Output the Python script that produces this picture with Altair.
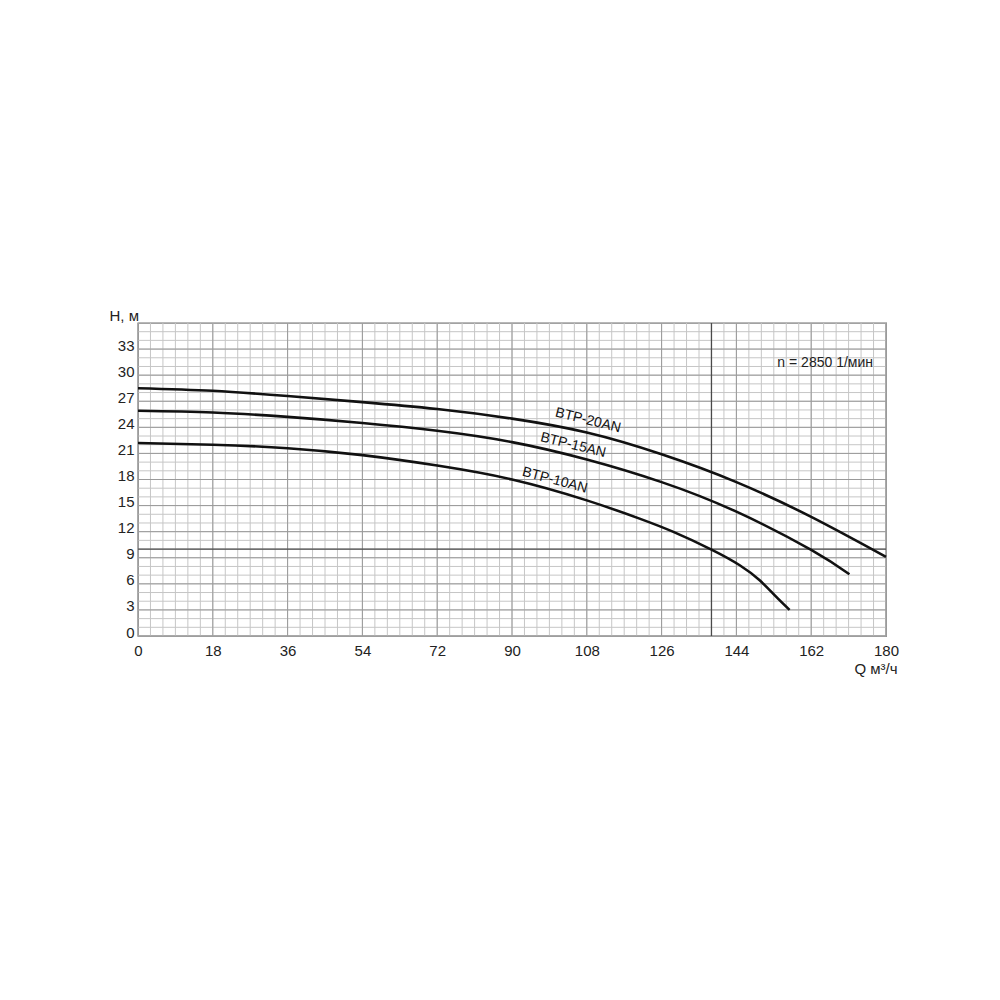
import altair as alt
import pandas as pd
import numpy as np

# Напорные характеристики насосов (Q м3/ч, H м)
q_20 = [0, 18, 36, 54, 72, 90, 108, 126, 144, 162, 180]
h_20 = [28.5, 28.2, 27.6, 26.9, 26.1, 25.0, 23.4, 20.9, 17.7, 13.7, 9.1]

q_15 = [0, 18, 36, 54, 72, 90, 108, 126, 144, 162, 171.2]
h_15 = [25.9, 25.7, 25.2, 24.5, 23.6, 22.3, 20.3, 17.7, 14.3, 9.9, 7.1]

q_10 = [0, 18, 36, 54, 72, 90, 108, 120.7, 128.7, 138, 144.8, 149.6, 153.6, 156.8]
h_10 = [22.2, 22.0, 21.6, 20.8, 19.6, 18.0, 15.6, 13.5, 12.0, 9.94, 8.14, 6.41, 4.49, 3.0]

names = ["BTP-20AN", "BTP-15AN", "BTP-10AN"]
label_q = [108.3, 104.7, 100.3]
label_h = [24.8, 21.95, 17.9]
label_angle = [14, 14, 15]

# рабочая точка (тёмные линии сетки)
duty_q = 138
duty_h = 10

x_ticks = list(range(0, 181, 18))
y_ticks = list(range(0, 34, 3))
speed_text = "n = 2850 1/мин"

FONT = "Liberation Sans"

curves = pd.concat([
    pd.DataFrame({"Q": q_20, "H": h_20, "pump": names[0]}),
    pd.DataFrame({"Q": q_15, "H": h_15, "pump": names[1]}),
    pd.DataFrame({"Q": q_10, "H": h_10, "pump": names[2]}),
])
labels = pd.DataFrame({"Q": label_q, "H": label_h, "pump": names, "angle": label_angle})

xs = alt.Scale(domain=[0, 180], nice=False, zero=False)
ys = alt.Scale(domain=[0, 36], nice=False, zero=False)

x_axis = alt.Axis(
    values=x_ticks, grid=False, ticks=False, domain=False, labelFlush=False,
    labelFont=FONT, labelFontSize=15, labelColor="#222222", labelPadding=7,
    title="Q м³/ч", titleFont=FONT, titleFontSize=15, titleFontWeight="normal",
    titleColor="#222222", titleAlign="right", titleX=759, titleY=32,
    titleBaseline="middle",
)
y_axis = alt.Axis(
    values=y_ticks, grid=False, ticks=False, domain=False, labelFlush=False,
    labelFont=FONT, labelFontSize=15, labelColor="#222222", labelPadding=4,
    labelOffset=-4,
    title="H, м", titleFont=FONT, titleFontSize=15, titleFontWeight="normal",
    titleColor="#222222", titleAngle=0, titleAlign="left", titleX=-29, titleY=-8,
    titleBaseline="middle",
)

def vgrid(values, color, width):
    return alt.Chart(pd.DataFrame({"Q": values})).mark_rule(
        color=color, strokeWidth=width
    ).encode(x=alt.X("Q:Q", scale=xs, axis=x_axis))

def hgrid(values, color, width):
    return alt.Chart(pd.DataFrame({"H": values})).mark_rule(
        color=color, strokeWidth=width
    ).encode(y=alt.Y("H:Q", scale=ys, axis=y_axis))

minor_x = vgrid(list(np.arange(0, 181, 3)), "#c6c6c6", 1)
minor_y = hgrid(list(np.arange(0, 37, 1)), "#c6c6c6", 1)
major_x = vgrid(x_ticks, "#9a9a9a", 1)
major_y = hgrid(y_ticks, "#9a9a9a", 1)
duty_x = vgrid([duty_q], "#4a4a4a", 1.3)
duty_y = hgrid([duty_h], "#4a4a4a", 1.3)

lines = alt.Chart(curves).mark_line(
    color="#111111", strokeWidth=2.6, interpolate="natural"
).encode(
    x=alt.X("Q:Q", scale=xs, axis=x_axis),
    y=alt.Y("H:Q", scale=ys, axis=y_axis),
    detail="pump:N",
)

curve_text = alt.Chart(labels).mark_text(
    font=FONT, fontSize=14, color="#111111", align="center", baseline="middle"
).encode(
    x=alt.X("Q:Q", scale=xs, axis=x_axis),
    y=alt.Y("H:Q", scale=ys, axis=y_axis),
    text="pump:N",
    angle=alt.Angle("angle:Q", scale=None),
)

speed = alt.Chart(pd.DataFrame({"t": [speed_text]})).mark_text(
    font=FONT, fontSize=14, color="#222222", align="right", baseline="middle"
).encode(text="t:N", x=alt.value(735), y=alt.value(40))

chart = alt.layer(
    minor_x, minor_y, major_x, major_y, duty_x, duty_y, lines, curve_text, speed
).properties(
    width=748, height=313,
    autosize=alt.AutoSizeParams(type="none"),
    padding={"left": 130, "top": 315, "right": 40, "bottom": 80},
    background="white",
).configure_view(stroke="#555555", strokeWidth=1.3)

chart.save("out.html", embed_options={"renderer": "svg", "actions": False})
